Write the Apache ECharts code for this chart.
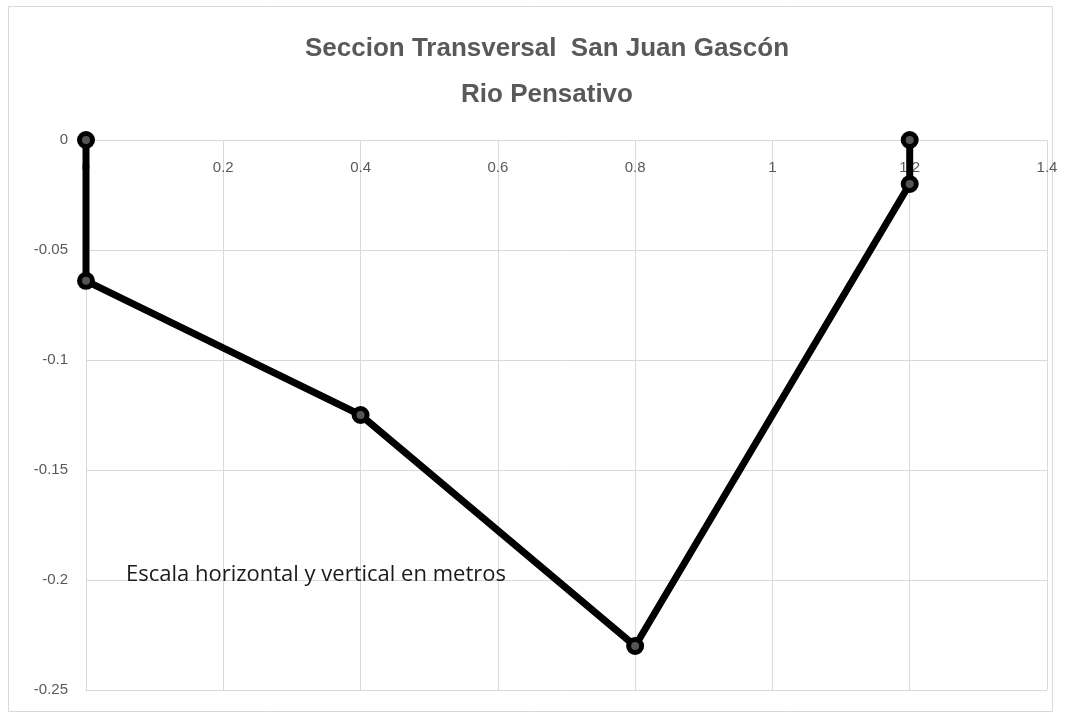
<!DOCTYPE html>
<html>
<head>
<meta charset="utf-8">
<script src="https://cdn.jsdelivr.net/npm/echarts@6/dist/echarts.min.js"></script>
<style>
html,body{margin:0;padding:0;background:#fff;}
#c{width:1076px;height:717px;}
</style>
</head>
<body>
<div id="c"></div>
<script>
var titleLines = ['Seccion Transversal  San Juan Gascón', 'Rio Pensativo'];
var note = 'Escala horizontal y vertical en metros';
var xValues = [0, 0, 0.4, 0.8, 1.2, 1.2];
var yValues = [0, -0.064, -0.125, -0.23, -0.02, 0];
var xTicks = { min: 0, max: 1.4, interval: 0.2 };
var yTicks = { min: -0.25, max: 0, interval: 0.05 };

var points = xValues.map(function (x, i) { return [x, yValues[i]]; });

var chart = echarts.init(document.getElementById('c'));
chart.setOption({
  backgroundColor: '#fff',
  animation: false,
  grid: { left: 86, right: 29, top: 140, bottom: 27, containLabel: false, outerBoundsMode: 'none' },
  xAxis: {
    type: 'value',
    position: 'top',
    min: xTicks.min, max: xTicks.max, interval: xTicks.interval,
    axisLine: { show: true, onZero: false, lineStyle: { color: '#d9d9d9', width: 1 } },
    axisTick: { show: false },
    splitLine: { show: true, lineStyle: { color: '#d9d9d9', width: 1 } },
    axisLabel: {
      inside: true, showMinLabel: true, showMaxLabel: true,
      color: '#595959', fontSize: 15, margin: 20,
      fontFamily: 'Liberation Sans, sans-serif'
    }
  },
  yAxis: {
    type: 'value',
    min: yTicks.min, max: yTicks.max, interval: yTicks.interval,
    axisLine: { show: false },
    axisTick: { show: false },
    splitLine: { show: true, lineStyle: { color: '#d9d9d9', width: 1 } },
    axisLabel: {
      color: '#595959', fontSize: 15, margin: 18,
      fontFamily: 'Liberation Sans, sans-serif'
    }
  },
  graphic: [
    {
      type: 'rect',
      shape: { x: 8.5, y: 6.5, width: 1044, height: 705 },
      style: { fill: 'none', stroke: '#d9d9d9', lineWidth: 1 },
      silent: true, z: -1
    },
    {
      type: 'text',
      x: 547, y: 49,
      style: {
        text: titleLines[0], align: 'center', verticalAlign: 'middle',
        fontFamily: 'Liberation Sans, sans-serif', fontSize: 26, fontWeight: 'bold',
        fill: '#595959'
      }
    },
    {
      type: 'text',
      x: 547, y: 95,
      style: {
        text: titleLines[1], align: 'center', verticalAlign: 'middle',
        fontFamily: 'Liberation Sans, sans-serif', fontSize: 26, fontWeight: 'bold',
        fill: '#595959'
      }
    },
    {
      type: 'text',
      x: 126, y: 575,
      z: 10,
      style: {
        text: note, align: 'left', verticalAlign: 'middle',
        fontFamily: 'Open Sans, Liberation Sans, sans-serif',
        fontSize: 22,
        fill: '#1a1a1a'
      }
    }
  ],
  series: [{
    type: 'line',
    data: points,
    lineStyle: { color: '#000', width: 7 },
    symbol: 'circle',
    symbolSize: 13,
    itemStyle: { color: '#555', borderColor: '#000', borderWidth: 5 },
    z: 5
  }]
});
</script>
</body>
</html>
